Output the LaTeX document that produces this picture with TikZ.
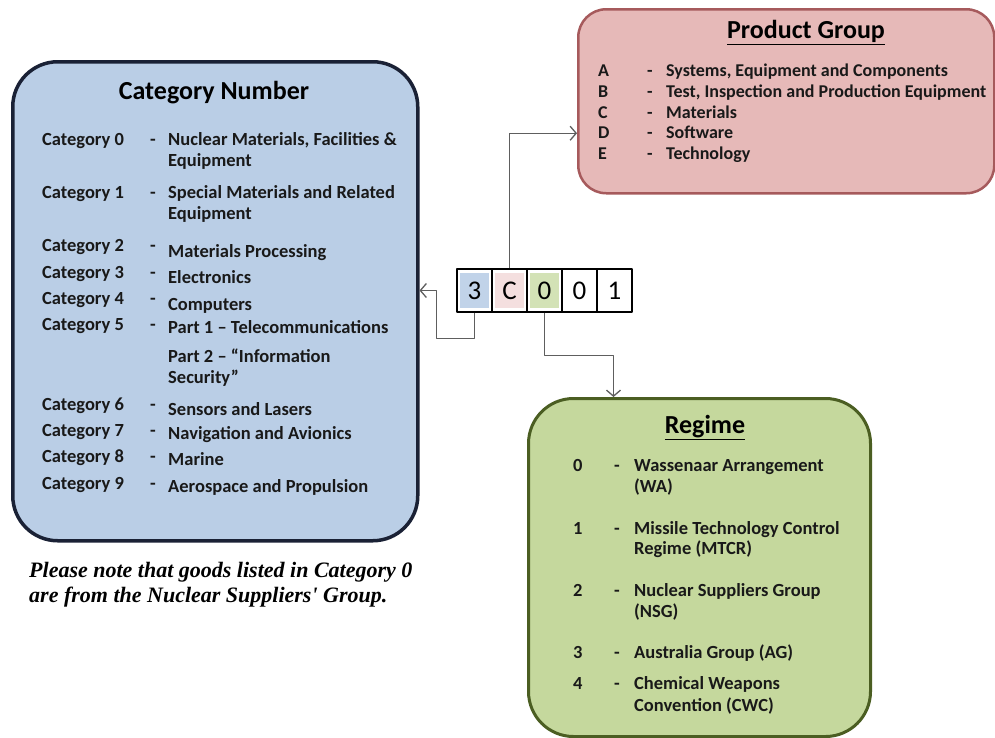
\documentclass[tikz,border=0pt]{standalone}
\usepackage{fontspec}
\setmainfont{Carlito}
\newfontfamily\notefont{Liberation Serif}
\usetikzlibrary{arrows.meta,positioning,calc}
\definecolor{catfill}{HTML}{BACEE6}
\definecolor{catline}{HTML}{1A2135}
\definecolor{prodfill}{HTML}{E6B9B8}
\definecolor{prodline}{HTML}{A65A5C}
\definecolor{regfill}{HTML}{C5D89D}
\definecolor{regline}{HTML}{4B5E22}
\definecolor{wire}{HTML}{5E5E5E}
\tikzset{
  box/.style={draw, rounded corners=#1, inner sep=0pt, anchor=north west},
  itemtxt/.style={anchor=mid west, inner sep=0pt, text=black!90, font=\bfseries\fontsize{18.5}{21}\selectfont},
  prodtxt/.style={itemtxt, font=\bfseries\fontsize{18}{20}\selectfont},
  headtxt/.style={inner sep=0pt, anchor=mid, font=\bfseries\fontsize{26}{30}\selectfont},
  notetxt/.style={anchor=mid west, inner sep=0pt, font=\notefont\bfseries\itshape\fontsize{22}{25}\selectfont},
  cell/.style={draw, line width=1.2pt, minimum width=35pt, minimum height=43pt, inner sep=0pt, font=\fontsize{27}{30}\selectfont}
}
\newcommand \mycatrow[4]
{
\node[itemtxt] (cat#3)  at (42,#1)  {Category #3};
\node[itemtxt] (catd#3) at (150,#1) {-};
\node[itemtxt] (cats#3) at (168,#2) {#4};
}
\newcommand \myprodrow[3]
{
\node[prodtxt] (pl#2) at (598,#1) {#2};
\node[prodtxt] (pd#2) at (647,#1) {-};
\node[prodtxt] (pt#2) at (666,#1) {#3};
}
\newcommand \myregrow[3]
{
\node[itemtxt] (rl#2) at (573,#1) {#2};
\node[itemtxt] (rd#2) at (614,#1) {-};
\node[itemtxt] (rt#2) at (634,#1) {#3};
}

\begin{document}
\begin{tikzpicture}[x=1pt,y=-1pt, line join=round,
  wire/.style={draw=wire, line width=1.3pt, -{Straight Barb[length=6pt,width=14pt]}}]
\useasboundingbox (0,0) rectangle (995,737);
% boxes
\node[box=45pt, fill=catfill, draw=catline, line width=3.5pt, minimum width=405pt, minimum height=479pt] (catbox) at (11,60) {};
\node[box=28pt, fill=prodfill, draw=prodline, line width=2.5pt, minimum width=416pt, minimum height=184pt] (prodbox) at (577,8) {};
\node[box=45pt, fill=regfill, draw=regline, line width=3pt, minimum width=342pt, minimum height=338pt] (regbox) at (527,397) {};
% category number
\node[headtxt] (cathead) at (214,97) {Category Number};
\mycatrow{143}{143}{0}{Nuclear Materials, Facilities \&}
\node[itemtxt] (cats0b) at (168,164) {Equipment};
\mycatrow{196}{196}{1}{Special Materials and Related}
\node[itemtxt] (cats1b) at (168,217) {Equipment};
\mycatrow{249}{255}{2}{Materials Processing}
\mycatrow{276}{281}{3}{Electronics}
\mycatrow{302}{308}{4}{Computers}
\mycatrow{328}{331}{5}{Part 1 -- Telecommunications}
\node[itemtxt] (cats5b) at (168,360) {Part 2 -- “Information};
\node[itemtxt] (cats5c) at (168,381) {Security”};
\mycatrow{408}{413}{6}{Sensors and Lasers}
\mycatrow{434}{437}{7}{Navigation and Avionics}
\mycatrow{460}{463}{8}{Marine}
\mycatrow{487}{490}{9}{Aerospace and Propulsion}
\node[notetxt] (note1) at (29,575) {Please note that goods listed in Category 0};
\node[notetxt] (note2) at (29,600) {are from the Nuclear Suppliers' Group.};
% product group
\node[headtxt] (prodhead) at (806,36) {\underline{Product Group}};
\myprodrow{74}{A}{Systems, Equipment and Components}
\myprodrow{95}{B}{Test, Inspection and Production Equipment}
\myprodrow{116}{C}{Materials}
\myprodrow{136}{D}{Software}
\myprodrow{157}{E}{Technology}
% regime
\node[headtxt] (reghead) at (705,431) {\underline{Regime}};
\myregrow{469}{0}{Wassenaar Arrangement}
\node[itemtxt] (rt0b) at (634,490) {(WA)};
\myregrow{532}{1}{Missile Technology Control}
\node[itemtxt] (rt1b) at (634,552) {Regime (MTCR)};
\myregrow{594}{2}{Nuclear Suppliers Group}
\node[itemtxt] (rt2b) at (634,615) {(NSG)};
\myregrow{656}{3}{Australia Group (AG)}
\myregrow{687}{4}{Chemical Weapons}
\node[itemtxt] (rt4b) at (634,709) {Convention (CWC)};
% code cells
\foreach \d/\c [count=\i] in {3/catfill!90,C/prodfill!45,0/regfill!75,0/white,1/white}
{
\fill[\c] (425+35*\i,273) rectangle ++(29,35);
\node[cell] (d\i) at (439.5+35*\i,290.5) {\d};
}
% connectors
\draw[wire] (d1.south) -- ++(0,26) -| ([xshift=-20pt]d1.west) -- (catbox.east |- d1.west);
\draw[wire] (d2.north) |- ([yshift=-32pt]prodbox.west);
\draw[wire] (d3.south) -- ++(0,43) -| ([xshift=-86pt]regbox.north);
\end{tikzpicture}
\end{document}
